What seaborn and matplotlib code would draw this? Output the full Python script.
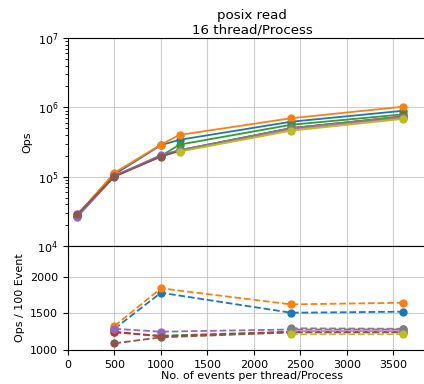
import numpy as np
import pandas as pd
import matplotlib
matplotlib.use("Agg")
import matplotlib.pyplot as plt
import seaborn as sns

# Events per thread/process for each panel
x_ops = [100, 500, 1000, 1200, 2400, 3600]
x_rate = [500, 1000, 2400, 3600]

series = ["s1", "s2", "s3", "s4", "s5", "s6", "s7", "s8", "s9"]

# Total operations (top panel); NaN where a run has no measurement
ops = {
    "s1": [2.8e4, 1.08e5, 2.85e5, 3.4e5, 6.2e5, 8.9e5],
    "s2": [2.8e4, 1.14e5, 2.9e5, 4.0e5, 6.96e5, 1.02e6],
    "s3": [2.7e4, 1.03e5, 1.98e5, 2.9e5, 5.6e5, 7.9e5],
    "s4": [2.7e4, 1.02e5, 1.97e5, 2.4e5, 5.0e5, 7.4e5],
    "s5": [2.62e4, 1.02e5, 2.05e5, 2.4e5, 5.0e5, 7.3e5],
    "s6": [2.89e4, 1.0e5, 1.95e5, 2.35e5, 4.9e5, 7.2e5],
    "s7": [np.nan, np.nan, np.nan, 2.35e5, 4.8e5, 7.1e5],
    "s8": [np.nan, np.nan, np.nan, 2.4e5, 5.0e5, 7.3e5],
    "s9": [np.nan, np.nan, np.nan, 2.3e5, 4.6e5, 6.8e5],
}

# Operations per 100 events (bottom panel)
rate = {
    "s1": [1290, 1782, 1509, 1523],
    "s2": [1327, 1842, 1623, 1645],
    "s3": [1240, 1195, 1250, 1250],
    "s4": [1250, 1185, 1245, 1245],
    "s5": [1290, 1250, 1280, 1280],
    "s6": [1091, 1173, 1240, 1240],
    "s7": [np.nan, np.nan, 1255, 1255],
    "s8": [np.nan, np.nan, 1296, 1290],
    "s9": [np.nan, np.nan, 1214, 1215],
}


def long_form(xs, table):
    rows = []
    for name in series:
        for xv, yv in zip(xs, table[name]):
            if not np.isnan(yv):
                rows.append({"events": xv, "value": yv, "run": name})
    return pd.DataFrame(rows)


df_ops = long_form(x_ops, ops)
df_rate = long_form(x_rate, rate)

palette = dict(zip(series, sns.color_palette("tab10", len(series))))

plt.rcParams.update({
    "font.family": "DejaVu Sans",
    "font.size": 8,
    "axes.titlesize": 9.6,
    "axes.labelsize": 8,
    "xtick.labelsize": 8,
    "ytick.labelsize": 8,
})

fig = plt.figure(figsize=(4.24, 3.84), dpi=100)
W, H = 424, 384
left, right = 68, 436
ax_top = fig.add_axes([left / W, (H - 246) / H, (right - left) / W, (246 - 38) / H])
ax_bot = fig.add_axes([left / W, (H - 350) / H, (right - left) / W, (350 - 246) / H],
                      sharex=ax_top)

line_kw = dict(marker="o", markersize=6, markeredgewidth=0, linewidth=1.3,
               errorbar=None, legend=False, palette=palette, hue_order=series)

sns.lineplot(data=df_ops, x="events", y="value", hue="run", ax=ax_top, **line_kw)
sns.lineplot(data=df_rate, x="events", y="value", hue="run", ax=ax_bot,
             linestyle="--", **line_kw)

ax_top.set_yscale("log")
ax_top.set_ylim(1e4, 1e7)
ax_top.set_ylabel("Ops")
ax_top.set_xlabel("")
ax_top.tick_params(axis="x", labelbottom=False)
ax_top.set_title("posix read\n16 thread/Process", pad=3)

ax_bot.set_xlim(0, 3960)
ax_bot.set_ylim(1000, 2420)
ax_bot.set_yticks([1000, 1500, 2000])
ax_bot.set_xticks([0, 500, 1000, 1500, 2000, 2500, 3000, 3500])
ax_bot.set_ylabel("Ops / 100 Event")
ax_bot.set_xlabel("No. of events per thread/Process", labelpad=1)

for ax in (ax_top, ax_bot):
    ax.grid(True, color="#c0c0c0", linewidth=0.8, alpha=0.8)
    ax.set_axisbelow(True)

fig.savefig("out.png", dpi=100)
